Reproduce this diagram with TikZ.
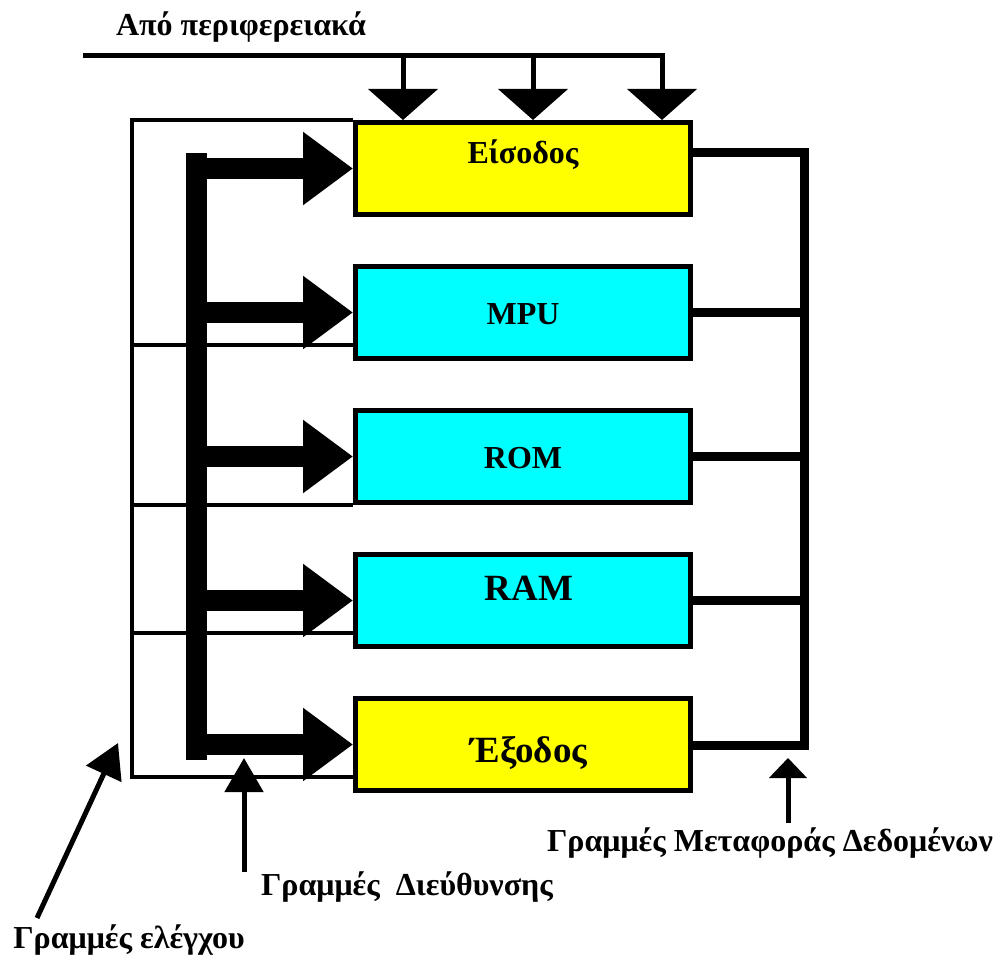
\documentclass[tikz,border=0pt]{standalone}
\usepackage{fontspec}
\setmainfont{Liberation Serif}
\usetikzlibrary{positioning,arrows.meta}

\definecolor{ioyellow}{RGB}{255,255,0}
\definecolor{memcyan}{RGB}{0,255,255}

\begin{document}
\begin{tikzpicture}[x=1pt,y=-1pt,node distance=47pt,
  unitbox/.style={draw,line width=5pt,minimum width=335pt,minimum height=92pt,inner sep=0pt},
  iobox/.style={unitbox,fill=ioyellow},
  membox/.style={unitbox,fill=memcyan},
  unitname/.style={font=\bfseries\fontsize{32}{36}\selectfont,anchor=base},
  bigname/.style={font=\bfseries\fontsize{37}{40}\selectfont,anchor=base},
  lbl/.style={font=\bfseries\fontsize{32}{36}\selectfont},
  ctl/.style={line width=4.5pt},
  bus/.style={line width=21pt},
  addr/.style={line width=21pt,-{Triangle[length=50pt,width=70pt]}},
  data/.style={line width=9pt},
  drop/.style={line width=5pt,-{Triangle[length=31pt,width=69pt]}},
  pointer/.style={line width=5pt,-{Triangle[length=34pt,width=38pt]}}]
  \useasboundingbox (0,0) rectangle (998,955);

  % the five units
  \node[iobox] (in) at (523,168.5) {};
  \node[membox] (mpu) [below=of in] {};
  \node[membox] (rom) [below=of mpu] {};
  \node[membox] (ram) [below=of rom] {};
  \node[iobox] (out) [below=of ram] {};

  \node[unitname] (intxt) at ([yshift=5.5pt]in.center) {Είσοδος};
  \node[unitname] (mputxt) at ([yshift=-11.5pt]mpu.center) {MPU};
  \node[unitname] (romtxt) at ([yshift=-11.5pt]rom.center) {ROM};
  \node[bigname] (ramtxt) at ([xshift=6pt]ram.center) {RAM};
  \node[bigname] (outtxt) at ([xshift=6pt,yshift=-17.5pt]out.center) {Έξοδος};

  % control lines
  \coordinate (cbot) at (132,777);
  \coordinate (c2) at (132,345);
  \coordinate (c3) at (132,505);
  \coordinate (c4) at (132,633);
  \draw[ctl] (in.north west) -| (cbot) -- (cbot -| out.west);
  \draw[ctl] (c2) -- (c2 -| mpu.west);
  \draw[ctl] (c3) -- (c3 -| rom.west);
  \draw[ctl] (c4) -- (c4 -| ram.west);

  % address bus
  \coordinate (abtop) at (196.5,153);
  \coordinate (abbot) at (196.5,760);
  \draw[bus] (abtop) -- (abbot);
  \foreach \u in {in,mpu,rom,ram,out}
    \draw[addr] (abtop |- \u) -- (\u.west);

  % data bus
  \coordinate (dtop) at (804,152);
  \coordinate (dbot) at (804,745);
  \draw[data] (dtop -| in.east) -- (dtop) -- (dbot) -- (dbot -| out.east);
  \foreach \u in {mpu,rom,ram}
    \draw[data] (\u.east) -- (\u.east -| dtop);

  % lines from the peripherals
  \coordinate (pstart) at (83,56);
  \coordinate (p1) at (403,56);
  \coordinate (p2) at (533,56);
  \coordinate (p3) at (662,56);
  \draw[drop] (pstart) -- (p3) -- (p3 |- in.north);
  \draw[drop] (p1) -- (p1 |- in.north);
  \draw[drop] (p2) -- (p2 |- in.north);

  % labels
  \node[lbl] (from) at (241,27) {Από περιφερειακά};
  \node[lbl] (ctllbl) at (129,940) {Γραμμές ελέγχου};
  \node[lbl] (addrlbl) at (407,887) {Γραμμές\ \ Διεύθυνσης};
  \node[lbl] (datalbl) at (770,843) {Γραμμές Μεταφοράς Δεδομένων};

  \coordinate (ctltail) at (37,918);
  \coordinate (ctltip) at (118,743);
  \coordinate (addrtail) at (244,872);
  \coordinate (addrtip) at (244,758);
  \coordinate (datatail) at (788,823);
  \coordinate (datatip) at (788,758);
  \draw[pointer] (ctltail) -- (ctltip);
  \draw[pointer] (addrtail) -- (addrtip);
  \draw[pointer,-{Triangle[length=20pt,width=37pt]}] (datatail) -- (datatip);
\end{tikzpicture}
\end{document}
